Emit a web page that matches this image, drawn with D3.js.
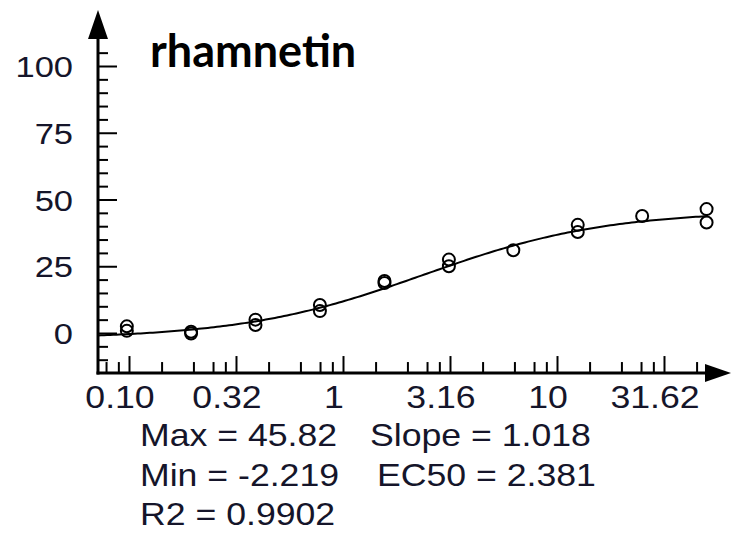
<!DOCTYPE html>
<html>
<head>
<meta charset="utf-8">
<script src="https://cdn.jsdelivr.net/npm/d3@7"></script>
<style>
  body { margin: 0; background: #fff; }
  svg { display: block; }
</style>
</head>
<body>
<svg id="chart" width="731" height="533"></svg>
<script>
// données
const concentrations = [0.0977, 0.0977, 0.195, 0.195, 0.39, 0.39, 0.78, 0.78, 1.5625, 1.5625,
  3.125, 3.125, 6.25, 12.5, 12.5, 25, 50, 50];
const responses = [2.5, 0.8, 0.5, -0.2, 5.0, 3.0, 10.5, 8.2, 19.5, 18.7,
  27.5, 25.0, 31.0, 40.5, 37.8, 43.8, 46.4, 41.4];
const xTickValues = [0.1, 0.3162, 1, 3.162, 10, 31.62];
const xTickLabels = ["0.10", "0.32", "1", "3.16", "10", "31.62"];
const yTickValues = [0, 25, 50, 75, 100];
const fitNames = ["Max", "Min", "EC50", "Slope"];
const fitValues = [45.82, -2.219, 2.381, 1.018];
const r2Value = 0.9902;
const title = "rhamnetin";

const svg = d3.select("#chart");
const ink = "#15152a";

// échelles
const x = d3.scaleLog().domain([0.1, 10]).range([129, 557]);
const y = d3.scaleLinear().domain([0, 100]).range([333, 66]);
const xLeft = 98, xRight = 708;
const yBottom = y(-15), yTop = 12;

// courbe de Hill avec les paramètres affichés
const [fMax, fMin, fEc50, fSlope] = fitValues;
const hill = (c) => fMin + (fMax - fMin) / (1 + Math.pow(fEc50 / c, fSlope));
const curveX = d3.range(0, 201).map((i) => x.invert(xLeft + (i / 200) * (xRight - xLeft)));

svg.append("path")
  .datum(curveX)
  .attr("fill", "none")
  .attr("stroke", "#000")
  .attr("stroke-width", 2)
  .attr("d", d3.line().x((c) => x(c)).y((c) => y(hill(c))));

// points
svg.append("g")
  .selectAll("circle")
  .data(concentrations)
  .join("circle")
  .attr("cx", (c) => x(c))
  .attr("cy", (c, i) => y(responses[i]))
  .attr("r", 6)
  .attr("fill", "none")
  .attr("stroke", "#000")
  .attr("stroke-width", 2);

// axe Y : graduations
const yMinor = d3.range(-10, 106, 5).filter((v) => v % 25 !== 0);
svg.append("g")
  .attr("transform", `translate(${xLeft},0)`)
  .call(d3.axisRight(y).tickValues(yMinor).tickSize(10).tickFormat(""))
  .call((g) => g.select(".domain").remove())
  .call((g) => g.selectAll("line").attr("stroke", "#000").attr("stroke-width", 2));
svg.append("g")
  .attr("transform", `translate(${xLeft},0)`)
  .call(d3.axisRight(y).tickValues(yTickValues).tickSize(19).tickFormat(""))
  .call((g) => g.select(".domain").remove())
  .call((g) => g.selectAll("line").attr("stroke", "#000").attr("stroke-width", 2));

// axe X : graduations
const xMinor = [];
for (let k = -1; k <= 5; k++) {
  const base = 0.1 * Math.pow(10, k / 2);
  [1.42, 2, 2.47, 2.82].forEach((m) => {
    const v = base * m;
    if (x(v) > xLeft + 4 && x(v) < xRight - 4) xMinor.push(v);
  });
}
svg.append("g")
  .attr("transform", `translate(0,${yBottom})`)
  .call(d3.axisTop(x).tickValues(xMinor).tickSize(11).tickFormat(""))
  .call((g) => g.select(".domain").remove())
  .call((g) => g.selectAll("line").attr("stroke", "#000").attr("stroke-width", 2));
svg.append("g")
  .attr("transform", `translate(0,${yBottom})`)
  .call(d3.axisTop(x).tickValues(xTickValues).tickSize(17).tickFormat(""))
  .call((g) => g.select(".domain").remove())
  .call((g) => g.selectAll("line").attr("stroke", "#000").attr("stroke-width", 2));

// lignes d'axes + flèches
svg.append("line")
  .attr("x1", xLeft).attr("x2", xLeft)
  .attr("y1", yBottom + 1.5).attr("y2", yTop + 20)
  .attr("stroke", "#000").attr("stroke-width", 3);
svg.append("line")
  .attr("x1", xLeft - 1.5).attr("x2", xRight + 5)
  .attr("y1", yBottom).attr("y2", yBottom)
  .attr("stroke", "#000").attr("stroke-width", 3);
svg.append("path")
  .attr("d", `M${xLeft},${yTop - 2} L${xLeft - 10},${yTop + 27} L${xLeft + 10},${yTop + 27} Z`)
  .attr("fill", "#000");
svg.append("path")
  .attr("d", `M731,${yBottom} L${xRight - 3},${yBottom - 9} L${xRight - 3},${yBottom + 9} Z`)
  .attr("fill", "#000");

// libellés de l'axe Y
svg.append("g")
  .selectAll("text")
  .data(yTickValues)
  .join("text")
  .attr("transform", (v) => `translate(73,${y(v) + 11}) scale(1.15,1)`)
  .attr("text-anchor", "end")
  .attr("font-family", "Liberation Sans, Arial, sans-serif")
  .attr("font-size", 30)
  .attr("fill", ink)
  .text((v) => v);

// libellés de l'axe X
svg.append("g")
  .selectAll("text")
  .data(xTickValues)
  .join("text")
  .attr("transform", (v) => `translate(${x(v) - 9},408) scale(1.15,1)`)
  .attr("text-anchor", "middle")
  .attr("font-family", "Liberation Sans, Arial, sans-serif")
  .attr("font-size", 31)
  .attr("fill", ink)
  .text((v, i) => xTickLabels[i]);

// titre
svg.append("text")
  .attr("x", 150).attr("y", 67)
  .attr("font-family", "Lato, sans-serif")
  .attr("font-weight", "bold")
  .attr("font-size", 45)
  .attr("fill", "#000")
  .text(title);

// paramètres de l'ajustement
const statRows = [
  { x: 140, y: 446, text: `${fitNames[0]} = ${fitValues[0]}` },
  { x: 370, y: 446, text: `${fitNames[3]} = ${fitValues[3]}` },
  { x: 140, y: 486, text: `${fitNames[1]} = ${fitValues[1]}` },
  { x: 377, y: 486, text: `${fitNames[2]} = ${fitValues[2]}` },
  { x: 140, y: 525, text: `R2 = ${r2Value}` },
];
svg.append("g")
  .selectAll("text")
  .data(statRows)
  .join("text")
  .attr("transform", (d) => `translate(${d.x},${d.y}) scale(1.15,1)`)
  .attr("font-family", "Liberation Sans, Arial, sans-serif")
  .attr("font-size", 31)
  .attr("fill", ink)
  .text((d) => d.text);
</script>
</body>
</html>
